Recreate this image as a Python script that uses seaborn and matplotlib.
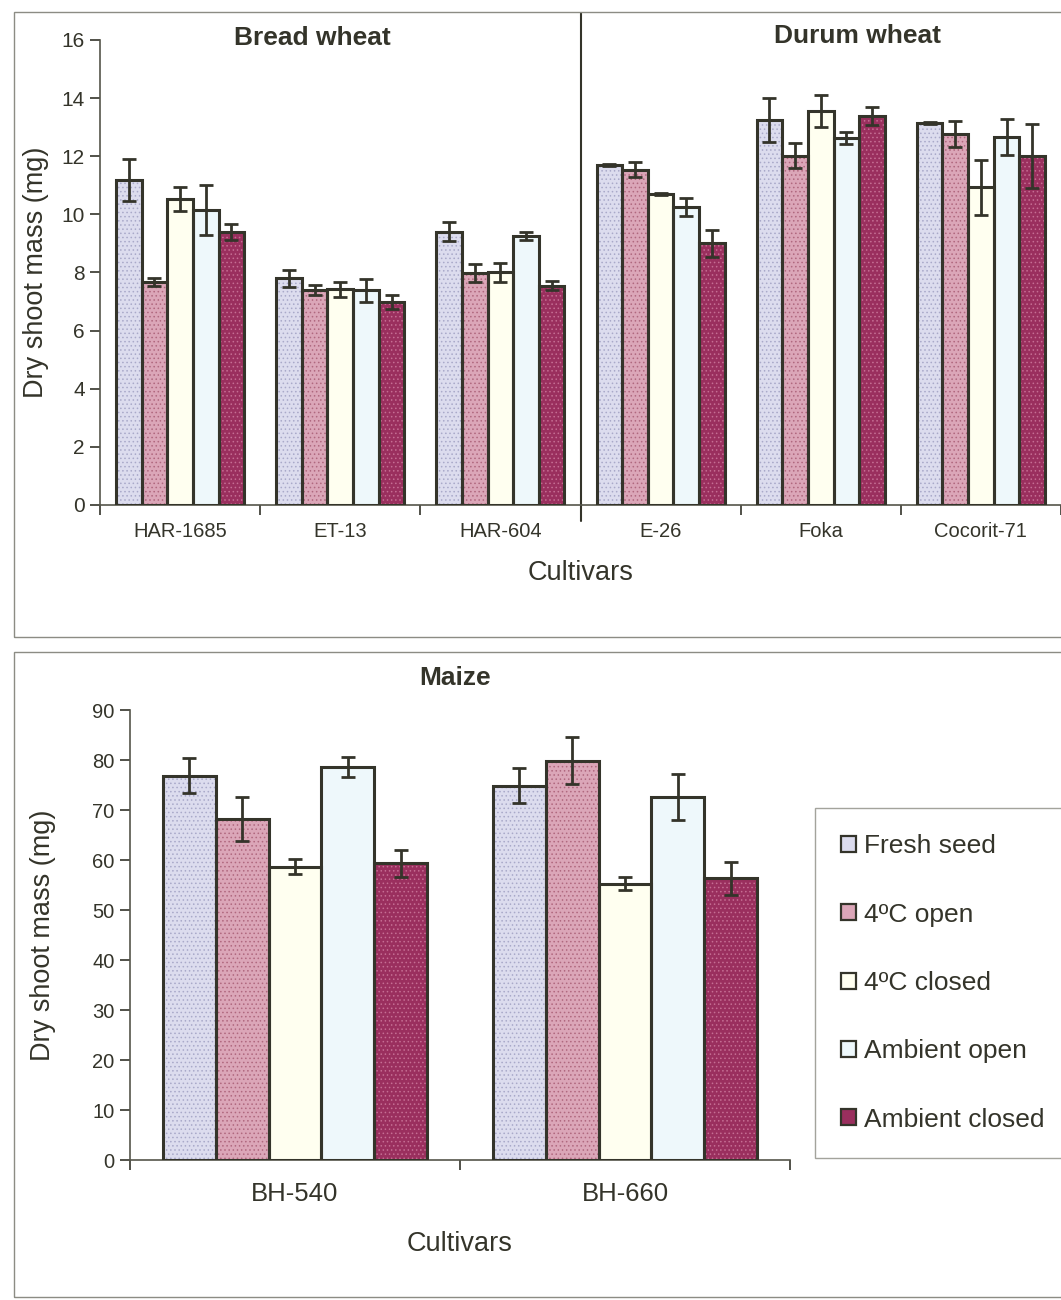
import matplotlib
matplotlib.use("Agg")
import matplotlib.pyplot as plt
from matplotlib.patches import Rectangle, Patch
import numpy as np
import pandas as pd
import seaborn as sns

# ---- data -------------------------------------------------------------
treatments = ["Fresh seed", "4ºC open", "4ºC closed", "Ambient open", "Ambient closed"]

wheat_cultivars = ["HAR-1685", "ET-13", "HAR-604", "E-26", "Foka", "Cocorit-71"]
n_bread = 3  # first three cultivars are bread wheat, the rest durum wheat

wheat_fresh = [11.17, 7.80, 9.41, 11.70, 13.25, 13.15]
wheat_4open = [7.68, 7.39, 7.99, 11.54, 12.02, 12.77]
wheat_4closed = [10.52, 7.43, 8.01, 10.70, 13.55, 10.93]
wheat_ambopen = [10.15, 7.39, 9.25, 10.25, 12.63, 12.66]
wheat_ambclosed = [9.39, 6.99, 7.55, 9.00, 13.38, 12.02]

wheat_fresh_se = [0.72, 0.29, 0.32, 0.04, 0.77, 0.04]
wheat_4open_se = [0.14, 0.18, 0.31, 0.27, 0.42, 0.46]
wheat_4closed_se = [0.41, 0.26, 0.33, 0.04, 0.56, 0.94]
wheat_ambopen_se = [0.87, 0.40, 0.14, 0.30, 0.20, 0.62]
wheat_ambclosed_se = [0.28, 0.25, 0.15, 0.46, 0.30, 1.10]

maize_cultivars = ["BH-540", "BH-660"]
maize_fresh = [76.9, 74.9]
maize_4open = [68.2, 79.9]
maize_4closed = [58.7, 55.3]
maize_ambopen = [78.7, 72.6]
maize_ambclosed = [59.4, 56.4]

maize_fresh_se = [3.5, 3.5]
maize_4open_se = [4.4, 4.7]
maize_4closed_se = [1.5, 1.3]
maize_ambopen_se = [2.0, 4.6]
maize_ambclosed_se = [2.7, 3.3]

wheat_ticks = list(range(0, 17, 2))
maize_ticks = list(range(0, 91, 10))

# ---- styling ----------------------------------------------------------
fill_colors = ["#dcdcee", "#dba6b8", "#fffff0", "#eef8fb", "#9a2f5e"]
dot_colors = ["#a9a9c9", "#b0687f", None, None, "#c56e93"]
ink = "#34342a"
frame_col = "#8c8c84"

sns.set_theme(style="white")
plt.rcParams["font.family"] = ["Liberation Sans", "DejaVu Sans"]
plt.rcParams["hatch.linewidth"] = 0.6
plt.rcParams["text.color"] = ink
plt.rcParams["axes.labelcolor"] = ink
plt.rcParams["xtick.color"] = ink
plt.rcParams["ytick.color"] = ink


def long_table(cultivars, series):
    rows = []
    for t, vals in zip(treatments, series):
        for c, v in zip(cultivars, vals):
            rows.append({"cultivar": c, "treatment": t, "mass": v})
    return pd.DataFrame(rows)


def draw_panel(ax, cultivars, series, errors, ticks, tick_fs, label_fs):
    df = long_table(cultivars, series)
    sns.barplot(data=df, x="cultivar", y="mass", hue="treatment",
                order=cultivars, hue_order=treatments,
                palette=dict(zip(treatments, fill_colors)),
                errorbar=None, width=0.8, edgecolor=ink, linewidth=2.0,
                legend=False, saturation=1, ax=ax)
    bar_groups = [list(c) for c in ax.containers]
    for k, bars in enumerate(bar_groups):
        for bar in bars:
            xc = bar.get_x() + bar.get_width() / 2
            ci = int(round(xc))
            val = series[k][ci]
            if dot_colors[k] is not None:
                ax.add_patch(Rectangle((bar.get_x(), 0), bar.get_width(), val,
                                       facecolor="none", edgecolor=dot_colors[k],
                                       linewidth=0, hatch="....", zorder=bar.get_zorder() + 0.1))
            # outline on top of the dot texture
            ax.add_patch(Rectangle((bar.get_x(), 0), bar.get_width(), val,
                                   facecolor="none", edgecolor=ink, linewidth=2.2, zorder=4))
            ax.errorbar(xc, val, yerr=errors[k][ci], fmt="none", ecolor=ink,
                        elinewidth=2.0, capsize=4.8, capthick=2.0, zorder=5)

    n = len(cultivars)
    ax.set_xlim(-0.5, n - 0.5)
    ax.set_ylim(ticks[0], ticks[-1])
    ax.set_yticks(ticks)
    ax.set_xticks(range(n))
    ax.set_xticklabels(cultivars)
    ax.set_xticks(np.arange(-0.5, n, 1.0), minor=True)
    ax.tick_params(axis="x", which="major", length=0, pad=12, labelsize=tick_fs)
    ax.tick_params(axis="x", which="minor", length=7, width=1.2, color=ink,
                   direction="out", bottom=True)
    ax.tick_params(axis="y", which="major", length=7, width=1.2, color=ink,
                   direction="out", labelsize=tick_fs + 0.5, pad=4, left=True)
    for s in ("top", "right"):
        ax.spines[s].set_visible(False)
    for s in ("left", "bottom"):
        ax.spines[s].set_color("#55554a")
        ax.spines[s].set_linewidth(1.2)
    ax.set_xlabel("Cultivars", fontsize=label_fs)
    ax.set_ylabel("Dry shoot mass (mg)", fontsize=label_fs)
    ax.grid(False)


W, H = 1061, 1300
fig = plt.figure(figsize=(W / 100, H / 100), dpi=100)
fig.patch.set_facecolor("white")

# panel frames
fig.add_artist(Rectangle((14 / W, 1 - 637 / H), 1.0, (637 - 12) / H,
                         transform=fig.transFigure, fill=False,
                         edgecolor=frame_col, linewidth=1.0))
fig.add_artist(Rectangle((14 / W, 1 - 1297 / H), 1.0, (1297 - 652) / H,
                         transform=fig.transFigure, fill=False,
                         edgecolor=frame_col, linewidth=1.0))

# ---- wheat panel ------------------------------------------------------
ax1 = fig.add_axes([100 / W, 1 - 505 / H, 961 / W, 465 / H])
draw_panel(ax1, wheat_cultivars,
           [wheat_fresh, wheat_4open, wheat_4closed, wheat_ambopen, wheat_ambclosed],
           [wheat_fresh_se, wheat_4open_se, wheat_4closed_se, wheat_ambopen_se, wheat_ambclosed_se],
           wheat_ticks, tick_fs=14.5, label_fs=19.5)
ax1.xaxis.labelpad = 14
ax1.yaxis.labelpad = 9
# divider between bread and durum wheat
ax1.axvline(n_bread - 0.5, ymin=-0.035, ymax=1.058, color=ink, linewidth=1.5, clip_on=False)
fig.text(312 / W, 1 - 38 / H, "Bread wheat", ha="center", va="center",
         fontsize=19, fontweight="bold")
fig.text(857 / W, 1 - 36 / H, "Durum wheat", ha="center", va="center",
         fontsize=19, fontweight="bold")

# ---- maize panel ------------------------------------------------------
ax2 = fig.add_axes([130 / W, 1 - 1160 / H, 660 / W, 450 / H])
draw_panel(ax2, maize_cultivars,
           [maize_fresh, maize_4open, maize_4closed, maize_ambopen, maize_ambclosed],
           [maize_fresh_se, maize_4open_se, maize_4closed_se, maize_ambopen_se, maize_ambclosed_se],
           maize_ticks, tick_fs=18.5, label_fs=19.5)
ax2.tick_params(axis="y", labelsize=14.5)
ax2.tick_params(axis="x", which="major", pad=16)
ax2.xaxis.labelpad = 18
ax2.yaxis.labelpad = 26
fig.text(455 / W, 1 - 678 / H, "Maize", ha="center", va="center",
         fontsize=19, fontweight="bold")

# ---- legend -----------------------------------------------------------
handles = [Patch(facecolor=c, edgecolor=ink, linewidth=1.6) for c in fill_colors]
leg = fig.legend(handles, treatments, loc="upper left",
                 bbox_to_anchor=(815 / W, 1 - 808 / H), fontsize=19,
                 frameon=True, fancybox=False, edgecolor=frame_col,
                 handlelength=0.55, handleheight=0.55, handletextpad=0.3,
                 labelspacing=1.68, borderpad=1.0, borderaxespad=0)
leg.get_frame().set_linewidth(1.0)

fig.savefig("out.png", dpi=100, facecolor="white")
